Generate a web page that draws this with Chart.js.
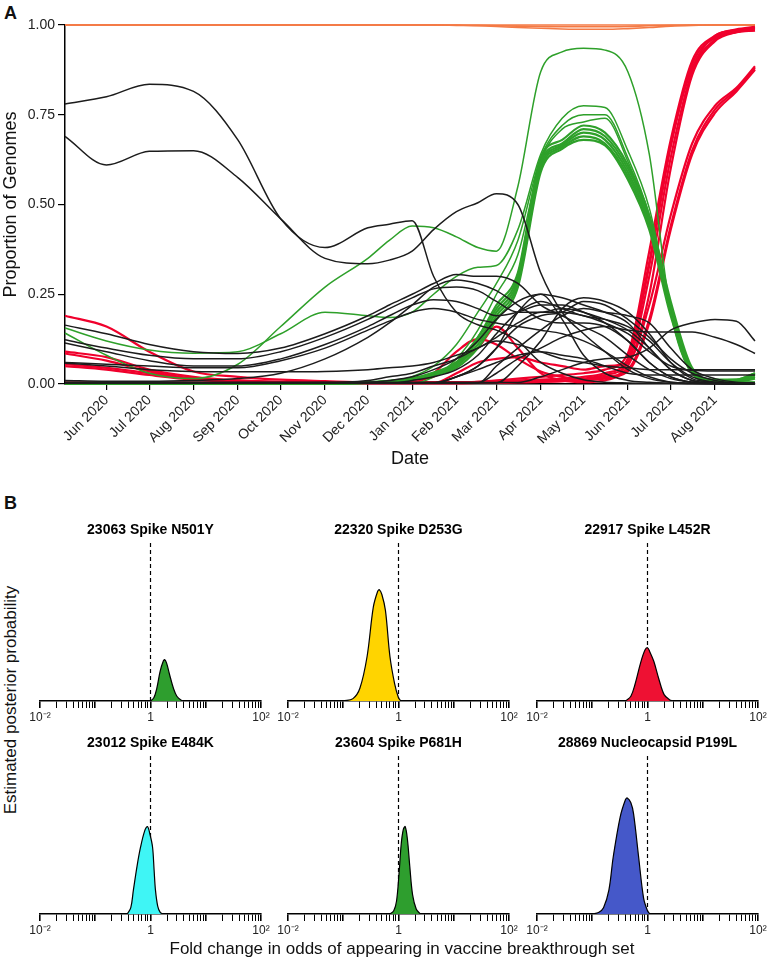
<!DOCTYPE html>
<html>
<head>
<meta charset="utf-8">
<script src="https://cdn.jsdelivr.net/npm/chart.js@4.4.1/dist/chart.umd.min.js"></script>
<style>
  body { margin: 0; width: 768px; height: 960px; overflow: hidden; background: #fff;
         font-family: 'Liberation Sans', Arial, Helvetica, sans-serif; color: #111; }
  canvas, .lbl { position: absolute; }
  .panel { font-weight: bold; font-size: 18px; line-height: 1; }
  .axisTitle { font-size: 17px; white-space: nowrap; line-height: 1; transform-origin: center; }
</style>
</head>
<body>
<div class="lbl panel" style="left:4px;top:4px">A</div>
<canvas id="lineChart" width="768" height="480" style="left:0;top:0"></canvas>
<div class="lbl panel" style="left:4px;top:494px">B</div>
<div id="densityBox"></div>
<div class="lbl axisTitle" id="yTitleB">Estimated posterior probability</div>
<div class="lbl axisTitle" id="xTitleB">Fold change in odds of appearing in vaccine breakthrough set</div>
<script>
// ---- Panel A: proportion of genomes over time ----
const axisStart = '2020-05-03';
const axisEnd = '2021-08-29';
const sampleDates = ['2020-05-03','2020-06-01','2020-07-01','2020-08-01','2020-09-01','2020-10-01',
  '2020-11-01','2020-12-01','2020-12-16','2021-01-01','2021-01-16','2021-02-01','2021-02-16',
  '2021-03-01','2021-03-16','2021-04-01','2021-04-16','2021-05-01','2021-05-16','2021-06-01',
  '2021-06-16','2021-07-01','2021-07-16','2021-08-01','2021-08-16','2021-08-29'];
const monthTicks = ['2020-06-01','2020-07-01','2020-08-01','2020-09-01','2020-10-01','2020-11-01',
  '2020-12-01','2021-01-01','2021-02-01','2021-03-01','2021-04-01','2021-05-01','2021-06-01',
  '2021-07-01','2021-08-01'];
const monthLabels = ['Jun 2020','Jul 2020','Aug 2020','Sep 2020','Oct 2020','Nov 2020','Dec 2020',
  'Jan 2021','Feb 2021','Mar 2021','Apr 2021','May 2021','Jun 2021','Jul 2021','Aug 2021'];
const yTicks = [0, 0.25, 0.5, 0.75, 1];

// orange (near fixation)
const orange1 = [1,1,1,1,1,1,1,1,1,1,1,1,1,1,1,1,1,1,1,1,1,1,1,1,1,1];
const orange2 = [1,1,1,1,1,1,1,1,1,1,1,0.999,0.998,0.996,0.993,0.991,0.989,0.988,0.988,0.99,0.993,0.997,0.999,1,1,1];
const orange3 = [1,1,1,1,1,1,1,1,1,1,1,1,0.999,0.998,0.997,0.996,0.995,0.995,0.995,0.996,0.998,0.999,1,1,1,1];

// black
const blackA = [0.78,0.80,0.835,0.815,0.68,0.46,0.38,0.435,0.445,0.455,0.30,0.20,0.165,0.15,0.12,0.06,0.03,0.012,0.005,0.003,0.002,0.002,0.001,0.001,0.001,0.001];
const blackB = [0.69,0.61,0.648,0.65,0.575,0.46,0.35,0.335,0.345,0.37,0.43,0.48,0.505,0.53,0.50,0.31,0.20,0.14,0.09,0.04,0.015,0.005,0.002,0.001,0.001,0.001];
const blackC = [0.164,0.14,0.11,0.09,0.085,0.10,0.14,0.19,0.22,0.25,0.28,0.305,0.30,0.30,0.28,0.22,0.19,0.16,0.13,0.08,0.04,0.015,0.005,0.002,0.001,0.001];
const blackD = [0.123,0.10,0.08,0.07,0.07,0.09,0.13,0.18,0.21,0.24,0.265,0.27,0.26,0.23,0.20,0.20,0.21,0.20,0.17,0.12,0.06,0.02,0.005,0.002,0.001,0.001];
const blackE = [0.114,0.09,0.065,0.05,0.05,0.07,0.11,0.16,0.19,0.22,0.235,0.23,0.21,0.19,0.20,0.22,0.22,0.20,0.18,0.15,0.10,0.04,0.01,0.003,0.001,0.001];
const blackF = [0.06,0.055,0.05,0.045,0.045,0.065,0.10,0.15,0.175,0.20,0.21,0.20,0.18,0.17,0.16,0.15,0.14,0.12,0.09,0.05,0.02,0.005,0.002,0.001,0.001,0.001];
const blackG = [0.058,0.05,0.04,0.035,0.034,0.034,0.035,0.04,0.045,0.05,0.06,0.08,0.10,0.13,0.17,0.20,0.20,0.19,0.17,0.14,0.09,0.05,0.038,0.036,0.036,0.036];
const blackH = [0.01,0.008,0.008,0.01,0.015,0.03,0.07,0.13,0.17,0.22,0.27,0.29,0.28,0.26,0.22,0.18,0.17,0.17,0.16,0.12,0.06,0.02,0.005,0.002,0.001,0.001];
const blackI = [0.003,0.003,0.003,0.003,0.003,0.003,0.004,0.005,0.01,0.02,0.04,0.07,0.12,0.18,0.23,0.25,0.24,0.22,0.20,0.17,0.10,0.04,0.01,0.003,0.001,0.001];
const blackJ = [0.002,0.002,0.002,0.002,0.002,0.002,0.002,0.002,0.002,0.01,0.02,0.04,0.08,0.14,0.20,0.23,0.21,0.19,0.18,0.16,0.12,0.06,0.02,0.005,0.002,0.001];
const blackK = [0.002,0.002,0.002,0.002,0.002,0.002,0.002,0.002,0.002,0.002,0.002,0.02,0.05,0.10,0.16,0.19,0.20,0.23,0.22,0.18,0.13,0.07,0.03,0.01,0.003,0.002];
const blackL = [0.002,0.002,0.002,0.002,0.002,0.002,0.002,0.002,0.002,0.002,0.002,0.002,0.002,0.05,0.10,0.15,0.19,0.21,0.20,0.19,0.17,0.10,0.04,0.015,0.005,0.003];
const blackM = [0.004,0.004,0.004,0.004,0.004,0.004,0.004,0.004,0.004,0.004,0.004,0.004,0.004,0.004,0.004,0.02,0.04,0.06,0.07,0.075,0.10,0.15,0.17,0.18,0.175,0.12];
const blackN = [0.004,0.004,0.004,0.004,0.004,0.004,0.004,0.004,0.004,0.004,0.004,0.004,0.004,0.03,0.07,0.10,0.13,0.15,0.16,0.15,0.145,0.145,0.145,0.13,0.11,0.085];
const blackO = [0.004,0.004,0.004,0.004,0.004,0.004,0.004,0.01,0.02,0.03,0.05,0.07,0.10,0.12,0.11,0.09,0.07,0.06,0.05,0.045,0.04,0.04,0.04,0.04,0.04,0.04];
const blackP = [0.003,0.003,0.003,0.003,0.003,0.003,0.003,0.003,0.003,0.003,0.003,0.02,0.04,0.06,0.08,0.09,0.08,0.07,0.05,0.03,0.025,0.025,0.025,0.025,0.025,0.025];
const blackQ = [0.003,0.003,0.003,0.003,0.003,0.003,0.003,0.003,0.003,0.003,0.003,0.02,0.05,0.10,0.20,0.25,0.18,0.08,0.03,0.01,0.005,0.002,0.002,0.002,0.002,0.002];
const blackR = [0.003,0.003,0.003,0.003,0.003,0.003,0.003,0.003,0.003,0.003,0.003,0.003,0.003,0.003,0.05,0.12,0.21,0.24,0.23,0.20,0.14,0.06,0.015,0.005,0.002,0.002];

// green
const green1 = [0.156,0.12,0.095,0.086,0.09,0.14,0.20,0.19,0.185,0.20,0.25,0.30,0.325,0.33,0.43,0.64,0.74,0.775,0.77,0.65,0.49,0.22,0.04,0.01,0.005,0.005];
const green2 = [0.142,0.08,0.03,0.015,0.055,0.16,0.27,0.35,0.40,0.44,0.435,0.41,0.38,0.37,0.55,0.87,0.925,0.935,0.93,0.87,0.64,0.20,0.03,0.005,0.002,0.002];
const green3 = [0.002,0.002,0.002,0.002,0.002,0.002,0.002,0.002,0.002,0.02,0.05,0.11,0.20,0.28,0.40,0.63,0.72,0.75,0.75,0.63,0.47,0.21,0.04,0.01,0.005,0.005];
const green4 = [0.002,0.002,0.002,0.002,0.002,0.002,0.002,0.002,0.002,0.002,0.02,0.07,0.15,0.25,0.36,0.62,0.71,0.73,0.74,0.62,0.46,0.21,0.04,0.01,0.005,0.005];
const green5 = [0.001,0.001,0.001,0.001,0.001,0.001,0.001,0.004,0.008,0.015,0.03,0.06,0.13,0.21,0.30,0.62,0.67,0.71,0.69,0.60,0.46,0.22,0.04,0.01,0.012,0.03];
const green6 = [0.001,0.001,0.001,0.001,0.001,0.001,0.001,0.004,0.008,0.014,0.028,0.055,0.12,0.20,0.29,0.61,0.665,0.70,0.68,0.59,0.45,0.21,0.035,0.008,0.01,0.025];
const green7 = [0.001,0.001,0.001,0.001,0.001,0.001,0.001,0.003,0.007,0.013,0.026,0.05,0.11,0.19,0.28,0.60,0.66,0.69,0.67,0.58,0.44,0.20,0.03,0.006,0.008,0.02];
const green8 = [0.001,0.001,0.001,0.001,0.001,0.001,0.001,0.005,0.009,0.016,0.032,0.06,0.13,0.22,0.31,0.63,0.68,0.72,0.70,0.61,0.47,0.23,0.045,0.012,0.012,0.03];
const green9 = [0.001,0.001,0.001,0.001,0.001,0.001,0.001,0.003,0.006,0.012,0.024,0.045,0.10,0.18,0.27,0.59,0.655,0.68,0.665,0.57,0.43,0.19,0.03,0.005,0.006,0.015];

// red
const red1 = [0.19,0.16,0.09,0.035,0.02,0.012,0.008,0.005,0.005,0.005,0.005,0.005,0.006,0.008,0.01,0.012,0.015,0.02,0.03,0.07,0.33,0.66,0.89,0.965,0.985,0.992];
const red2 = [0.09,0.075,0.04,0.02,0.01,0.005,0.003,0.003,0.003,0.003,0.003,0.004,0.006,0.01,0.015,0.02,0.025,0.03,0.04,0.085,0.37,0.68,0.90,0.97,0.988,0.995];
const red3 = [0.085,0.065,0.035,0.015,0.008,0.004,0.003,0.003,0.003,0.003,0.003,0.003,0.004,0.005,0.006,0.008,0.01,0.015,0.025,0.06,0.30,0.63,0.87,0.96,0.98,0.985];
const red4 = [0.055,0.045,0.03,0.015,0.01,0.006,0.004,0.003,0.003,0.003,0.003,0.003,0.003,0.004,0.005,0.006,0.008,0.012,0.02,0.04,0.18,0.44,0.65,0.765,0.82,0.88];
const red5 = [0.05,0.04,0.025,0.012,0.006,0.004,0.003,0.002,0.002,0.002,0.002,0.002,0.003,0.004,0.005,0.006,0.008,0.01,0.018,0.035,0.17,0.43,0.64,0.755,0.815,0.875];
const red6 = [0.003,0.003,0.003,0.003,0.003,0.003,0.003,0.003,0.003,0.01,0.02,0.06,0.10,0.16,0.10,0.03,0.01,0.005,0.01,0.07,0.34,0.67,0.88,0.97,0.985,0.99];
const red7 = [0.003,0.003,0.003,0.003,0.003,0.003,0.003,0.003,0.003,0.003,0.03,0.09,0.125,0.11,0.07,0.035,0.02,0.012,0.015,0.05,0.25,0.60,0.86,0.955,0.98,0.985];
const red8 = [0.003,0.003,0.003,0.003,0.003,0.003,0.003,0.003,0.003,0.003,0.003,0.03,0.06,0.07,0.075,0.06,0.05,0.04,0.05,0.06,0.22,0.47,0.67,0.775,0.825,0.885];

const blackSeries = [blackA, blackB, blackC, blackD, blackE, blackF, blackG, blackH, blackI,
  blackJ, blackK, blackL, blackM, blackN, blackO, blackP, blackQ, blackR];
const greenSeries = [green1, green2, green3, green4, green5, green6, green7, green8, green9];
const redSeries = [red1, red2, red3, red4, red5, red6, red7, red8];
const orangeSeries = [orange1, orange2, orange3];

// ---- Panel B: posterior densities (x = fold change, y = relative density) ----
const foldN501Y = [1.0, 1.15, 1.3, 1.5, 1.7, 1.8, 1.95, 2.2, 2.6, 3.0, 3.6, 4.0];
const densN501Y = [0, 0.02, 0.08, 0.19, 0.25, 0.26, 0.24, 0.17, 0.08, 0.03, 0.005, 0];
const foldD253G = [0.1, 0.15, 0.2, 0.27, 0.35, 0.42, 0.45, 0.5, 0.58, 0.7, 0.85, 1.0, 1.1];
const densD253G = [0, 0.015, 0.08, 0.28, 0.59, 0.69, 0.70, 0.67, 0.57, 0.28, 0.11, 0.02, 0];
const foldL452R = [0.4, 0.5, 0.6, 0.75, 0.9, 1.0, 1.1, 1.3, 1.6, 2.0, 2.5, 2.9];
const densL452R = [0, 0.03, 0.11, 0.24, 0.32, 0.335, 0.31, 0.25, 0.14, 0.04, 0.008, 0];
const foldE484K = [0.38, 0.44, 0.49, 0.57, 0.66, 0.78, 0.88, 0.98, 1.09, 1.16, 1.23, 1.35, 1.5, 1.7];
const densE484K = [0, 0.04, 0.15, 0.30, 0.42, 0.52, 0.55, 0.50, 0.42, 0.28, 0.15, 0.05, 0.01, 0];
const foldP681H = [0.7, 0.82, 0.92, 1.02, 1.12, 1.22, 1.32, 1.45, 1.6, 1.8, 2.1, 2.5];
const densP681H = [0, 0.02, 0.08, 0.25, 0.44, 0.53, 0.55, 0.47, 0.3, 0.12, 0.03, 0];
const foldP199L = [0.1, 0.13, 0.16, 0.2, 0.24, 0.32, 0.4, 0.43, 0.5, 0.56, 0.69, 0.85, 1.0, 1.1];
const densP199L = [0, 0.01, 0.04, 0.15, 0.36, 0.61, 0.72, 0.73, 0.70, 0.63, 0.36, 0.10, 0.02, 0];

const densityTitles = ['23063 Spike N501Y', '22320 Spike D253G', '22917 Spike L452R',
  '23012 Spike E484K', '23604 Spike P681H', '28869 Nucleocapsid P199L'];
const densityFolds = [foldN501Y, foldD253G, foldL452R, foldE484K, foldP681H, foldP199L];
const densityValues = [densN501Y, densD253G, densL452R, densE484K, densP681H, densP199L];
const densityColors = ['#2e9e2e', '#ffd400', '#ee1133', '#3ff5f5', '#2e9e2e', '#4558c9'];

Chart.defaults.font.family = "'Liberation Sans', Arial, Helvetica, sans-serif";
Chart.defaults.color = '#111';

const toDay = s => (Date.parse(s) - Date.parse(axisStart)) / 86400000;

function lineSet(values, color, width) {
    return {
        data: values.map((v, i) => ({ x: toDay(sampleDates[i]), y: v })),
        borderColor: color,
        borderWidth: width,
        pointRadius: 0,
        cubicInterpolationMode: 'monotone',
        fill: false,
        clip: 4   // let the lines at 1.00 show their full width
    };
}

const datasets = [];
blackSeries.forEach(s => datasets.push(lineSet(s, '#1c1c1c', 1.5)));
greenSeries.forEach((s, i) => datasets.push(lineSet(s, '#2ea02a', i < 4 ? 1.5 : 2.2)));
redSeries.forEach(s => datasets.push(lineSet(s, '#f0002c', 2.2)));
orangeSeries.forEach(s => datasets.push(lineSet(s, '#f47a45', 1.6)));

new Chart(document.getElementById('lineChart'), {
    type: 'line',
    data: { datasets: datasets },
    options: {
        responsive: false,
        animation: false,
        devicePixelRatio: 1,
        layout: { padding: { left: 0, right: 13, top: 25, bottom: 0 } },
        plugins: { legend: { display: false }, tooltip: { enabled: false } },
        scales: {
            x: {
                type: 'linear',
                min: 0,
                max: toDay(axisEnd),
                afterBuildTicks: scale => { scale.ticks = monthTicks.map(d => ({ value: toDay(d) })); },
                afterFit: scale => { scale.height = 96; },
                ticks: {
                    autoSkip: false, minRotation: 45, maxRotation: 45,
                    font: { size: 14 }, color: '#222', padding: 2,
                    callback: (v, i) => monthLabels[i]
                },
                grid: { drawOnChartArea: false, tickLength: 6, color: '#000', lineWidth: 1.2 },
                border: { display: true, color: '#000', width: 1.5 },
                title: { display: true, text: 'Date', font: { size: 18 }, color: '#111',
                         padding: { top: 0, bottom: 10 } }
            },
            y: {
                min: 0,
                max: 1,
                afterBuildTicks: scale => { scale.ticks = yTicks.map(v => ({ value: v })); },
                afterFit: scale => { scale.width = 65; },
                ticks: { font: { size: 14 }, color: '#222', padding: 3, callback: v => v.toFixed(2) },
                grid: { drawOnChartArea: false, tickLength: 7, color: '#000', lineWidth: 1.2 },
                border: { display: true, color: '#000', width: 1.5 },
                title: { display: true, text: 'Proportion of Genomes', font: { size: 18 }, color: '#111',
                         padding: 0 }
            }
        }
    }
});

// log axis ticks 0.01 .. 100
const logTicks = [];
[0.01, 0.1, 1, 10].forEach(d => { for (let m = 1; m < 10; m++) logTicks.push(+(d * m).toPrecision(3)); });
logTicks.push(100);
function logLabel(v) {
    const e = Math.log10(v);
    if (Math.abs(e + 2) < 1e-6) return '10\u207B\u00B2';
    if (Math.abs(e) < 1e-6) return '1';
    if (Math.abs(e - 2) < 1e-6) return '10\u00B2';
    return '';
}
const isDecade = v => Math.abs(Math.log10(v) - Math.round(Math.log10(v))) < 1e-6;

// small multiples layout
const colLeft = [40, 288, 537];
const plotW = 221;
const rowTop = [542, 755];
const plotH = 159;
const padSide = 16;
const titleH = 30;
const axisH = 28;
const box = document.getElementById('densityBox');

densityTitles.forEach((title, k) => {
    const col = k % 3;
    const row = Math.floor(k / 3);
    const cv = document.createElement('canvas');
    cv.width = plotW + 2 * padSide;
    cv.height = titleH + plotH + axisH;
    cv.style.left = (colLeft[col] - padSide) + 'px';
    cv.style.top = (rowTop[row] - titleH) + 'px';
    box.appendChild(cv);

    new Chart(cv, {
        type: 'line',
        data: {
            datasets: [
                {
                    data: densityFolds[k].map((f, i) => ({ x: f, y: densityValues[k][i] })),
                    fill: 'origin',
                    backgroundColor: densityColors[k],
                    borderColor: '#000',
                    borderWidth: 1.2,
                    pointRadius: 0,
                    tension: 0.35
                },
                {
                    data: [{ x: 1, y: 0 }, { x: 1, y: 1 }],
                    borderColor: '#000',
                    borderWidth: 1.2,
                    borderDash: [4, 3],
                    pointRadius: 0,
                    fill: false
                }
            ]
        },
        options: {
            responsive: false,
            animation: false,
            devicePixelRatio: 1,
            layout: { padding: { left: padSide, right: padSide, top: 0, bottom: 0 } },
            plugins: {
                legend: { display: false },
                tooltip: { enabled: false },
                title: { display: true, text: title, color: '#000',
                         font: { size: 14, weight: 'bold' }, padding: { top: 10, bottom: 3.2 } }
            },
            scales: {
                x: {
                    type: 'logarithmic',
                    min: 0.01,
                    max: 100,
                    afterBuildTicks: scale => { scale.ticks = logTicks.map(v => ({ value: v })); },
                    afterFit: scale => { scale.height = axisH; },
                    ticks: { autoSkip: false, maxRotation: 0, minRotation: 0, font: { size: 12 },
                             color: '#222', padding: 2, callback: v => logLabel(v) },
                    grid: {
                        drawOnChartArea: false, tickLength: 7, color: '#000',
                        lineWidth: ctx => (ctx.tick && isDecade(ctx.tick.value)) ? 1.6 : 1
                    },
                    border: { display: true, color: '#000', width: 1.5 }
                },
                y: { display: false, min: 0, max: 1 }
            }
        }
    });
});

// shared axis titles for panel B
const yT = document.getElementById('yTitleB');
yT.style.left = '10px';
yT.style.top = '700px';
yT.style.transform = 'translate(-50%, -50%) rotate(-90deg)';
const xT = document.getElementById('xTitleB');
xT.style.left = '402px';
xT.style.top = '948px';
xT.style.transform = 'translate(-50%, -50%)';
</script>
</body>
</html>
